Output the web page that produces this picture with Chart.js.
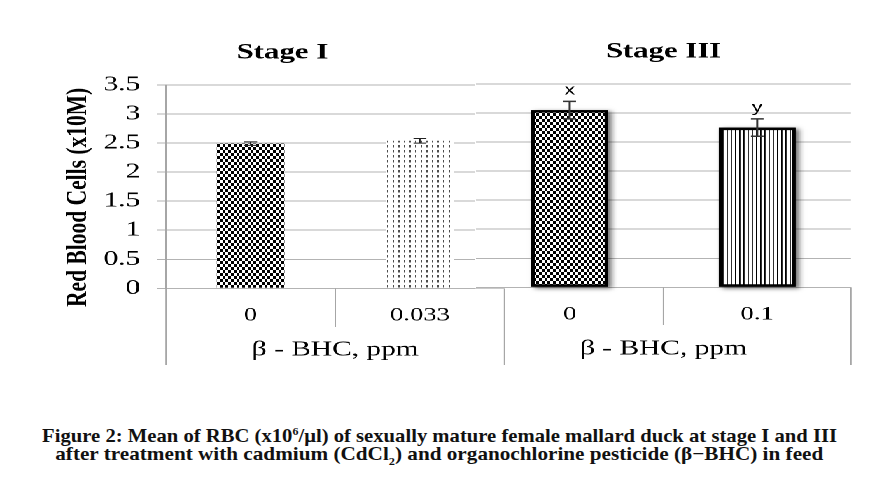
<!DOCTYPE html>
<html><head><meta charset="utf-8">
<script src="https://cdn.jsdelivr.net/npm/chart.js@4.4.0/dist/chart.umd.min.js"></script>
<style>
html,body{margin:0;padding:0;background:#fff;width:879px;height:502px;overflow:hidden;}
#stretch{position:absolute;left:0;top:0;width:628px;height:400px;transform:scaleX(1.4);transform-origin:0 0;}
#leftWrap{position:absolute;left:43px;top:0;width:320px;height:380px;}
#rightWrap{position:absolute;left:339px;top:-1px;width:276px;height:380px;}
canvas{display:block;}
.cap{position:absolute;left:0;width:879px;text-align:center;font-family:"Liberation Serif",serif;font-weight:bold;font-size:19px;line-height:22px;white-space:nowrap;color:#111;}
.cap span{display:inline-block;transform-origin:50% 50%;}
</style></head>
<body>
<div id="stretch">
  <div id="leftWrap"><canvas id="left" width="320" height="380"></canvas></div>
  <div id="rightWrap"><canvas id="right" width="276" height="380"></canvas></div>
</div>
<div class="cap" style="top:420px"><span data-w="795">Figure 2: Mean of RBC (x10<sup style="font-size:11px">6</sup>/μl) of sexually mature female mallard duck at stage I and III</span></div>
<div class="cap" style="top:443px"><span data-w="768">after treatment with cadmium (CdCl<sub style="font-size:11px">2</sub>) and organochlorine pesticide (β−BHC) in feed</span></div>
<script>
// ---- data ----
const yTickLabels = ['0','0.5','1','1.5','2','2.5','3','3.5'];
const stage1Categories = ['0','0.033'];
const stage1Means = [2.49, 2.54];
const stage1Errors = [0.03, 0.04];
const stage3Categories = ['0','0.1'];
const stage3Means = [3.05, 2.75];
const stage3Errors = [0.15, 0.15];
const stage3Letters = ['x','y'];

// ---- patterns ----
function makePattern(w, h, draw){
  const k = 4;
  const c = document.createElement('canvas');
  c.width = w*k; c.height = h*k;
  const g = c.getContext('2d');
  g.scale(k,k);
  g.fillStyle = '#fff'; g.fillRect(0,0,w,h);
  g.fillStyle = '#000';
  draw(g);
  const p = g.createPattern(c,'repeat');
  p.setTransform(new DOMMatrix().scale(1/k,1/k));
  return p;
}
const checker = makePattern(4,6,g=>{g.fillRect(0,0,2,3);g.fillRect(2,3,2,3);});
const dotted = makePattern(4,5,g=>{g.fillStyle='#222';g.fillRect(1.6,0,0.8,2.5);});
const stripes = makePattern(3,1,g=>{g.fillRect(0,0,0.9,1);});

// ---- plugins ----
const errorBarPlugin = {
  id:'errorBars',
  afterDatasetsDraw(chart, args, o){
    const {ctx, scales:{y}} = chart;
    const meta = chart.getDatasetMeta(0);
    const vals = chart.data.datasets[0].data;
    ctx.save();
    ctx.strokeStyle = o.color; ctx.lineWidth = o.width;
    meta.data.forEach((bar,i)=>{
      const top = y.getPixelForValue(vals[i]+o.errors[i]);
      const bot = y.getPixelForValue(vals[i]-o.errors[i]);
      const x = bar.x, c = o.cap;
      ctx.beginPath();
      ctx.moveTo(x,top); ctx.lineTo(x,bot);
      ctx.moveTo(x-c,top); ctx.lineTo(x+c,top);
      ctx.moveTo(x-c,bot); ctx.lineTo(x+c,bot);
      ctx.stroke();
      if (o.labels){
        ctx.fillStyle='#000';
        ctx.font = '15px "Liberation Sans", Arial, sans-serif';
        ctx.textAlign='center'; ctx.textBaseline='alphabetic';
        ctx.fillText(o.labels[i], x, top - o.labelGap);
      }
    });
    ctx.restore();
  }
};
const tableLinesPlugin = {
  id:'tableLines',
  afterDraw(chart, args, o){
    const {ctx, chartArea, scales:{x}} = chart;
    const n = chart.data.labels.length;
    const w = (x.right - x.left)/n;
    ctx.save(); ctx.strokeStyle = o.color; ctx.lineWidth = 1;
    for(let i=0;i<=n;i++){
      const edge = (i===0 || i===n);
      if (edge && !o.edges[i===0?0:1]) continue;
      const px = x.left + i*w;
      ctx.beginPath();
      ctx.moveTo(px, chartArea.bottom);
      ctx.lineTo(px, edge ? o.edgeBottom : o.midBottom);
      ctx.stroke();
    }
    ctx.restore();
  }
};
const whiteTopPlugin = {
  id:'whiteTop',
  beforeDraw(chart){
    const {ctx, chartArea} = chart;
    ctx.save(); ctx.fillStyle='#fff';
    ctx.fillRect(0,0,chart.width, chartArea.bottom+1);
    ctx.restore();
  }
};
const shadowPlugin = {
  id:'barShadow',
  beforeDatasetsDraw(chart){
    const {ctx} = chart;
    const meta = chart.getDatasetMeta(0);
    ctx.save();
    ctx.shadowColor='rgba(0,0,0,0.55)';
    ctx.shadowBlur=8; ctx.shadowOffsetX=5; ctx.shadowOffsetY=3;
    ctx.fillStyle='#000';
    meta.data.forEach(bar=>{
      const {x,y,base,width} = bar.getProps(['x','y','base','width'], true);
      ctx.fillRect(x-width/2, y, width, base-y);
    });
    ctx.restore();
  }
};

const serif = 'Liberation Serif';
function xScale(){
  return {
    grid:{display:false}, border:{display:false},
    ticks:{font:{family:serif,size:19},color:'#000',padding:8},
    title:{display:true,text:'β - BHC, ppm',font:{family:serif,size:21},color:'#000',padding:{top:0,bottom:17.4}},
    afterFit:s=>{s.height=91.7;}
  };
}
function titleOpt(t){
  return {display:true,text:t,font:{family:serif,size:22,weight:'bold'},color:'#000',padding:{top:39.8,bottom:18.8}};
}

new Chart(document.getElementById('left'), {
  type:'bar',
  data:{labels:stage1Categories, datasets:[{data:stage1Means, backgroundColor:[checker,dotted], borderWidth:0, barPercentage:0.4, categoryPercentage:1}]},
  options:{
    responsive:false, animation:false, devicePixelRatio:2,
    layout:{padding:{left:0,right:2.6,top:0,bottom:0}},
    plugins:{
      legend:{display:false}, tooltip:{enabled:false},
      title:titleOpt('Stage I'),
      errorBars:{errors:stage1Errors,color:'#222',width:1,cap:4.6},
      tableLines:{edges:[true,true],midBottom:327,edgeBottom:365,color:'#a6a6a6'}
    },
    scales:{
      x:xScale(),
      y:{min:0,max:3.5,
         ticks:{stepSize:0.5,callback:(v,i)=>yTickLabels[i],font:{family:serif,size:21},color:'#000',padding:12},
         grid:{color:'#b3b3b3',tickLength:6.4,tickColor:'#b3b3b3'},
         border:{display:true,color:'#a6a6a6'},
         title:{display:true,text:'Red Blood Cells (x10M)    ',font:{family:serif,size:21.5,weight:'bold'},color:'#000',padding:0},
         afterFit:s=>{s.width=75.6;}}
    }
  },
  plugins:[errorBarPlugin, tableLinesPlugin]
});

new Chart(document.getElementById('right'), {
  type:'bar',
  data:{labels:stage3Categories, datasets:[{data:stage3Means, backgroundColor:[checker,stripes], borderColor:'#000', borderWidth:2.5, borderSkipped:false, barPercentage:0.41, categoryPercentage:1}]},
  options:{
    responsive:false, animation:false, devicePixelRatio:2,
    layout:{padding:{left:1,right:7.1,top:0,bottom:0}},
    plugins:{
      legend:{display:false}, tooltip:{enabled:false},
      title:titleOpt('Stage III'),
      errorBars:{errors:stage3Errors,color:'#333',width:1.5,cap:4.5,labels:stage3Letters,labelGap:7},
      tableLines:{edges:[false,true],midBottom:326,edgeBottom:366,color:'#a6a6a6'}
    },
    scales:{
      x:xScale(),
      y:{min:0,max:3.5,
         ticks:{display:false,stepSize:0.5},
         grid:{color:'#b3b3b3',drawTicks:false},
         border:{display:false},
         afterFit:s=>{s.width=0;}}
    }
  },
  plugins:[whiteTopPlugin, shadowPlugin, errorBarPlugin, tableLinesPlugin]
});

document.querySelectorAll('.cap span').forEach(sp=>{
  const w = sp.getBoundingClientRect().width;
  sp.style.transform = 'scaleX(' + (+sp.dataset.w / w) + ')';
});
</script>
</body></html>
